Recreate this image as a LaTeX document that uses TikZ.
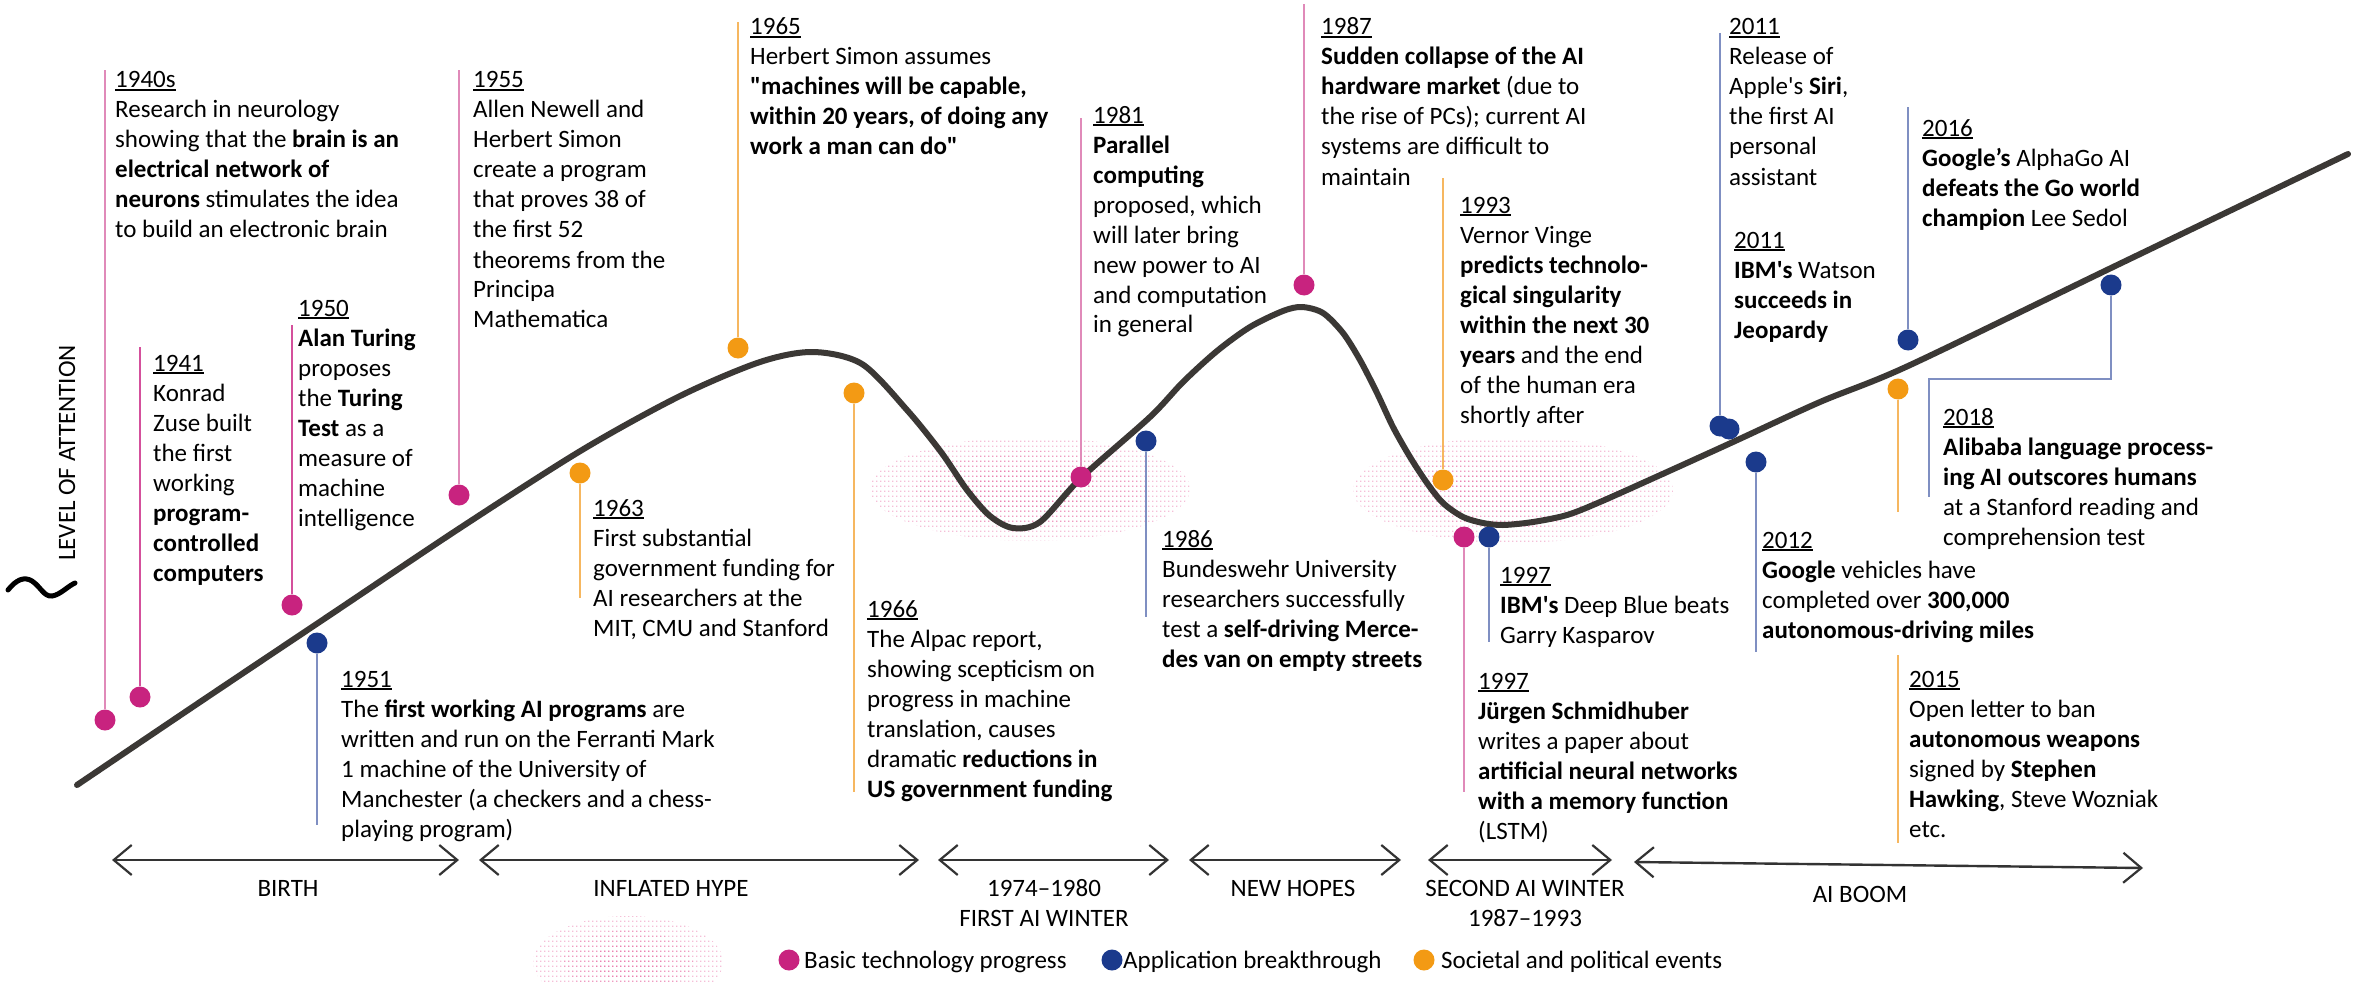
\documentclass[tikz,border=0pt]{standalone}
\usepackage{fontspec}
\newfontfamily\carl{Carlito}
\usetikzlibrary{arrows.meta,patterns}
\definecolor{mag}{HTML}{C8237F}
\definecolor{magstem}{HTML}{E08AB9}
\definecolor{magstemd}{HTML}{D4509C}
\definecolor{blu}{HTML}{1B3A8C}
\definecolor{blustem}{HTML}{7F8FC2}
\definecolor{org}{HTML}{F39A14}
\definecolor{orgstem}{HTML}{F6B760}
\definecolor{curvec}{HTML}{3B3835}
\definecolor{blobc}{HTML}{E4488F}
\pgfdeclarepatternformonly{halftone}{\pgfpointorigin}{\pgfpoint{4pt}{5pt}}{\pgfpoint{4pt}{5pt}}{\pgfpathrectangle{\pgfpointorigin}{\pgfpoint{1.7pt}{1.5pt}}\pgfusepath{fill}}
\newcommand\yrl[1]{\setbox0\hbox{#1}\rlap{\rule[-3pt]{\wd0}{1.8pt}}\box0}
\newcommand\evt[1]{\begin{tabular}[t]{@{}l@{}}#1\end{tabular}}
\begin{document}
\begin{tikzpicture}[x=1pt,y=-1pt,
  txt/.style={anchor=base west, inner sep=0pt, font=\carl\fontsize{25}{30}\selectfont},
  plab/.style={inner sep=0pt, font=\carl\fontsize{25}{30}\selectfont},
  dotm/.style={circle, fill=mag, minimum size=21pt, inner sep=0pt},
  dotb/.style={circle, fill=blu, minimum size=21pt, inner sep=0pt},
  doto/.style={circle, fill=org, minimum size=21pt, inner sep=0pt},
  magline/.style={draw=magstem, line width=2.6pt},
  maglined/.style={draw=magstemd, line width=2.6pt},
  bluline/.style={draw=blustem, line width=2.6pt},
  orgline/.style={draw=orgstem, line width=2.6pt},
  period/.style={draw=black!80, line width=2.4pt, {Straight Barb[length=18pt,width=30pt,line width=2.2pt]}-{Straight Barb[length=18pt,width=30pt,line width=2.2pt]}},
  curvest/.style={draw=curvec, line width=6pt, line cap=round},
  blob/.style={pattern=halftone, pattern color=blobc}
]
\fill[white] (0,0) rectangle (2356,982);
\useasboundingbox (0,0) rectangle (2356,982);

% dotted blobs
\fill[blob, fill opacity=0.35] (1030,489) ellipse [x radius=160pt, y radius=52pt];
\fill[blob, fill opacity=0.3] (1030,489) ellipse [x radius=115pt, y radius=38pt];
\fill[blob, fill opacity=0.3] (1030,489) ellipse [x radius=65pt, y radius=22pt];
\fill[blob, fill opacity=0.35] (1513,490) ellipse [x radius=160pt, y radius=53pt];
\fill[blob, fill opacity=0.3] (1513,490) ellipse [x radius=115pt, y radius=38pt];
\fill[blob, fill opacity=0.3] (1513,490) ellipse [x radius=65pt, y radius=22pt];
\fill[blob, fill opacity=0.35] (628,962) ellipse [x radius=95pt, y radius=46pt];
\fill[blob, fill opacity=0.3] (628,962) ellipse [x radius=65pt, y radius=32pt];
\fill[blob, fill opacity=0.3] (628,962) ellipse [x radius=35pt, y radius=18pt];

% axis label
\node[plab, rotate=90] (ylab) at (67,453) {LEVEL OF ATTENTION};
\draw[line width=5pt, line cap=round] (8,590) .. controls (16,580) and (24,576) .. (32,581) .. controls (40,586) and (44,597) .. (52,596) .. controls (60,595) and (68,586) .. (75,583);

% hype curve
\draw[curvest] plot[smooth, tension=0.5] coordinates {(77,785) (200,702) (330,615) (460,528) (582,450) (680,396) (760,362) (813,352) (862,364) (907,410) (941,452) (967,490) (990,516) (1013,528) (1040,522) (1081,478) (1150,417) (1183,382) (1217,351) (1250,327) (1283,311) (1302,307) (1323,313) (1343,333) (1360,360) (1377,393) (1393,427) (1410,457) (1427,483) (1443,503) (1463,517) (1483,523) (1503,525) (1533,522) (1567,515) (1600,502) (1667,472) (1733,442) (1820,402) (1908,366) (2111,268) (2348,154)};

% dots
\node[dotm] (d40) at (105,720) {};
\node[dotm] (d41) at (140,697) {};
\node[dotm] (d50) at (292,605) {};
\node[dotm] (d55) at (459,495) {};
\node[dotm] (d81) at (1081,477) {};
\node[dotm] (d87) at (1304,285) {};
\node[dotm] (d97m) at (1464,537) {};
\node[dotb] (d51) at (317,643) {};
\node[dotb] (d86) at (1146,441) {};
\node[dotb] (d97b) at (1489,537) {};
\node[dotb] (d11a) at (1720,426) {};
\node[dotb] (d11b) at (1729,429) {};
\node[dotb] (d12) at (1756,462) {};
\node[dotb] (d16) at (1908,340) {};
\node[dotb] (d18) at (2111,285) {};
\node[doto] (d63) at (580,473) {};
\node[doto] (d65) at (738,348) {};
\node[doto] (d66) at (854,393) {};
\node[doto] (d93) at (1443,480) {};
\node[doto] (d15) at (1898,389) {};

% stem ends
\coordinate (t40) at (105,70);
\coordinate (t41) at (140,347);
\coordinate (t50) at (292,325);
\coordinate (t55) at (459,70);
\coordinate (t81) at (1081,118);
\coordinate (t87) at (1304,4);
\coordinate (t97m) at (1464,792);
\coordinate (t51) at (317,825);
\coordinate (t86) at (1146,617);
\coordinate (t97b) at (1489,642);
\coordinate (t11) at (1720,33);
\coordinate (t12) at (1756,652);
\coordinate (t16) at (1908,107);
\coordinate (t18a) at (2111,379);
\coordinate (t18b) at (1929,379);
\coordinate (t18c) at (1929,497);
\coordinate (t63) at (580,598);
\coordinate (t65) at (738,22);
\coordinate (t66) at (854,792);
\coordinate (t93) at (1443,178);
\coordinate (t15a) at (1898,512);
\coordinate (t15b) at (1898,655);
\coordinate (t15c) at (1898,843);

\draw[magline] (d40) -- (t40);
\draw[maglined] (d41) -- (t41);
\draw[maglined] (d50) -- (t50);
\draw[magline] (d55) -- (t55);
\draw[magline] (d81) -- (t81);
\draw[magline] (d87) -- (t87);
\draw[magline] (d97m) -- (t97m);
\draw[bluline] (d51) -- (t51);
\draw[bluline] (d86) -- (t86);
\draw[bluline] (d97b) -- (t97b);
\draw[bluline] (d11a) -- (t11);
\draw[bluline] (d12) -- (t12);
\draw[bluline] (d16) -- (t16);
\draw[bluline] (d18) -- (t18a) -- (t18b) -- (t18c);
\draw[orgline] (d63) -- (t63);
\draw[orgline] (d65) -- (t65);
\draw[orgline] (d66) -- (t66);
\draw[orgline] (d93) -- (t93);
\draw[orgline] (d15) -- (t15a);
\draw[orgline] (t15b) -- (t15c);

% event texts
\node[txt] (l40) at (115,88) {\evt{\yrl{1940s}\\Research in neurology\\showing that the \textbf{brain is an}\\\textbf{electrical network of}\\\textbf{neurons} stimulates the idea\\to build an electronic brain}};
\node[txt] (l41) at (153,371) {\evt{\yrl{1941}\\Konrad\\Zuse built\\the first\\working\\\textbf{program-}\\\textbf{controlled}\\\textbf{computers}}};
\node[txt] (l50) at (298,316) {\evt{\yrl{1950}\\\textbf{Alan Turing}\\proposes\\the \textbf{Turing}\\\textbf{Test} as a\\measure of\\machine\\intelligence}};
\node[txt] (l51) at (341,687) {\evt{\yrl{1951}\\The \textbf{first working AI programs} are\\written and run on the Ferranti Mark\\1 machine of the University of\\Manchester (a checkers and a chess-\\playing program)}};
\node[txt] (l55) at (473,88) {\evt{\yrl{1955}\\Allen Newell and\\Herbert Simon\\create a program\\that proves 38 of\\the first 52\\theorems from the\\Principa\\Mathematica}};
\node[txt] (l63) at (593,516) {\evt{\yrl{1963}\\First substantial\\government funding for\\AI researchers at the\\MIT, CMU and Stanford}};
\node[txt] (l65) at (750,35) {\evt{\yrl{1965}\\Herbert Simon assumes\\\textbf{"machines will be capable,}\\\textbf{within 20 years, of doing any}\\\textbf{work a man can do"}}};
\node[txt] (l66) at (867,617) {\evt{\yrl{1966}\\The Alpac report,\\showing scepticism on\\progress in machine\\translation, causes\\dramatic \textbf{reductions in}\\\textbf{US government funding}}};
\node[txt] (l81) at (1093,123) {\evt{\yrl{1981}\\\textbf{Parallel}\\\textbf{computing}\\proposed, which\\will later bring\\new power to AI\\and computation\\in general}};
\node[txt] (l86) at (1162,547) {\evt{\yrl{1986}\\Bundeswehr University\\researchers successfully\\test a \textbf{self-driving Merce-}\\\textbf{des van on empty streets}}};
\node[txt] (l87) at (1321,35) {\evt{\yrl{1987}\\\textbf{Sudden collapse of the AI}\\\textbf{hardware market} (due to\\the rise of PCs); current AI\\systems are difficult to\\maintain}};
\node[txt] (l93) at (1460,213) {\evt{\yrl{1993}\\Vernor Vinge\\\textbf{predicts technolo-}\\\textbf{gical singularity}\\\textbf{within the next 30}\\\textbf{years} and the end\\of the human era\\shortly after}};
\node[txt] (l97b) at (1500,583) {\evt{\yrl{1997}\\\textbf{IBM's} Deep Blue beats\\Garry Kasparov}};
\node[txt] (l97m) at (1478,689) {\evt{\yrl{1997}\\\textbf{Jürgen Schmidhuber}\\writes a paper about\\\textbf{artificial neural networks}\\\textbf{with a memory function}\\(LSTM)}};
\node[txt] (l11a) at (1729,35) {\evt{\yrl{2011}\\Release of\\Apple's \textbf{Siri},\\the first AI\\personal\\assistant}};
\node[txt] (l11b) at (1734,248) {\evt{\yrl{2011}\\\textbf{IBM's} Watson\\\textbf{succeeds in}\\\textbf{Jeopardy}}};
\node[txt] (l12) at (1762,548) {\evt{\yrl{2012}\\\textbf{Google} vehicles have\\completed over \textbf{300,000}\\\textbf{autonomous-driving miles}}};
\node[txt] (l15) at (1909,687) {\evt{\yrl{2015}\\Open letter to ban\\\textbf{autonomous weapons}\\signed by \textbf{Stephen}\\\textbf{Hawking}, Steve Wozniak\\etc.}};
\node[txt] (l16) at (1922,136) {\evt{\yrl{2016}\\\textbf{Google’s} AlphaGo AI\\\textbf{defeats the Go world}\\\textbf{champion} Lee Sedol}};
\node[txt] (l18) at (1943,425) {\evt{\yrl{2018}\\\textbf{Alibaba language process-}\\\textbf{ing AI outscores humans}\\at a Stanford reading and\\comprehension test}};

% periods
\coordinate (pa1) at (112,860); \coordinate (pa2) at (459,860);
\coordinate (pb1) at (479,860); \coordinate (pb2) at (919,860);
\coordinate (pc1) at (938,860); \coordinate (pc2) at (1169,860);
\coordinate (pd1) at (1189,860); \coordinate (pd2) at (1401,860);
\coordinate (pe1) at (1428,860); \coordinate (pe2) at (1612,860);
\coordinate (pf1) at (1634,862); \coordinate (pf2) at (2143,868);
\draw[period] (pa1) -- (pa2);
\draw[period] (pb1) -- (pb2);
\draw[period] (pc1) -- (pc2);
\draw[period] (pd1) -- (pd2);
\draw[period] (pe1) -- (pe2);
\draw[period] (pf1) -- (pf2);
\node[plab] (pla) at (288,888) {BIRTH};
\node[plab] (plb) at (671,888) {INFLATED HYPE};
\node[plab] (plc1) at (1044,888) {1974–1980};
\node[plab] (plc2) at (1044,918) {FIRST AI WINTER};
\node[plab] (pld) at (1293,888) {NEW HOPES};
\node[plab] (ple1) at (1525,888) {SECOND AI WINTER};
\node[plab] (ple2) at (1525,918) {1987–1993};
\node[plab] (plf) at (1860,894) {AI BOOM};

% legend
\node[dotm] (gm) at (789,960) {};
\node[txt] (gmt) at (804,968) {Basic technology progress};
\node[dotb] (gb) at (1112,960) {};
\node[txt] (gbt) at (1123,968) {Application breakthrough};
\node[doto] (go) at (1424,960) {};
\node[txt] (got) at (1441,968) {Societal and political events};
\end{tikzpicture}
\end{document}
